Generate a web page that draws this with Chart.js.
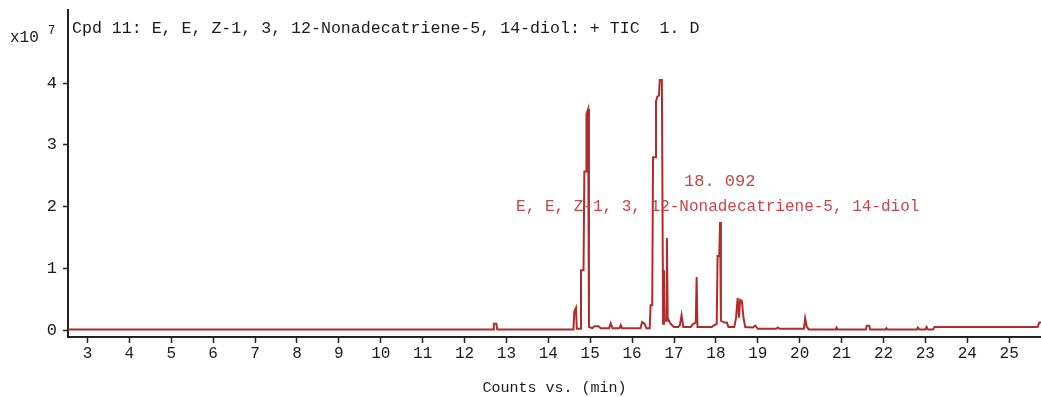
<!DOCTYPE html>
<html>
<head>
<meta charset="utf-8">
<script src="https://cdn.jsdelivr.net/npm/chart.js@4/dist/chart.umd.min.js"></script>
<style>
html,body{margin:0;padding:0;background:#fff;}
#c{display:block;}
</style>
</head>
<body>
<canvas id="c" width="1041" height="397" style="width:1041px;height:397px"></canvas>
<script>
// Retention time (min) and TIC counts (x10^7)
const times = [2.54,12.68,12.70,12.76,12.78,14.60,14.62,14.66,14.68,14.76,14.78,14.84,14.86,14.90,14.91,14.95,14.97,15.05,15.10,15.20,15.25,15.45,15.49,15.53,15.70,15.73,15.76,16.20,16.24,16.30,16.34,16.42,16.44,16.48,16.50,16.55,16.57,16.60,16.64,16.66,16.71,16.74,16.76,16.78,16.81,16.83,16.85,16.88,16.92,17.00,17.10,17.14,17.18,17.22,17.40,17.46,17.52,17.54,17.56,17.90,17.96,18.02,18.04,18.08,18.10,18.12,18.20,18.26,18.30,18.44,18.48,18.52,18.55,18.58,18.62,18.66,18.70,18.88,18.94,19.00,19.44,19.48,19.52,20.10,20.13,20.17,20.22,20.86,20.88,20.90,21.58,21.60,21.66,21.68,22.05,22.07,22.09,22.80,22.82,22.86,23.00,23.03,23.06,23.18,23.22,25.68,25.72,25.76];
const counts = [0.01,0.01,0.10,0.10,0.01,0.01,0.30,0.36,0.02,0.02,0.97,0.97,2.57,2.57,3.50,3.58,0.05,0.03,0.06,0.06,0.03,0.03,0.11,0.03,0.03,0.08,0.03,0.03,0.13,0.10,0.03,0.03,0.40,0.40,2.80,2.80,3.70,3.78,3.80,4.05,4.05,0.10,0.97,0.15,0.15,1.49,0.20,0.15,0.10,0.05,0.05,0.08,0.24,0.05,0.05,0.10,0.12,0.86,0.05,0.05,0.08,0.10,1.20,1.20,1.75,0.15,0.12,0.12,0.05,0.05,0.20,0.52,0.20,0.49,0.47,0.19,0.05,0.04,0.07,0.02,0.02,0.04,0.02,0.02,0.19,0.05,0.01,0.01,0.04,0.01,0.01,0.07,0.07,0.01,0.01,0.03,0.01,0.01,0.04,0.01,0.01,0.05,0.01,0.01,0.05,0.05,0.12,0.12];
const xTicks = [3,4,5,6,7,8,9,10,11,12,13,14,15,16,17,18,19,20,21,22,23,24,25];
const yTicks = [0,1,2,3,4];
const titleText = "Cpd 11: E, E, Z-1, 3, 12-Nonadecatriene-5, 14-diol: + TIC  1. D";
const peakTime = 18.092;
const peakLabel = "18. 092";
const peakName = "E, E, Z-1, 3, 12-Nonadecatriene-5, 14-diol";
const xTitle = "Counts vs. (min)";

const points = times.map((t,i)=>({x:t,y:counts[i]}));
const FONT = '"Liberation Mono", "DejaVu Sans Mono", monospace';

const textPlugin = {
  id:'texts',
  afterDraw(chart){
    const ctx = chart.ctx;
    const xs = chart.scales.x;
    ctx.save();
    ctx.fillStyle = '#1a1a1a';
    ctx.textBaseline = 'middle';
    ctx.textAlign = 'left';
    ctx.font = '16.6px ' + FONT;
    ctx.fillText(titleText, 72, 29);
    ctx.font = '16px ' + FONT;
    ctx.fillText('x10', 10, 38);
    ctx.font = '12px ' + FONT;
    ctx.fillText('7', 48, 31);
    // peak annotation
    const px = xs.getPixelForValue(peakTime);
    ctx.fillStyle = '#c84646';
    ctx.textAlign = 'center';
    ctx.font = '17px ' + FONT;
    ctx.fillText(peakLabel, px, 181);
    ctx.font = '16px ' + FONT;
    ctx.fillText(peakName, px - 2, 207);
    ctx.restore();
  }
};

new Chart(document.getElementById('c'), {
  type:'line',
  data:{datasets:[{
    data:points,
    borderColor:'#b02c2c',
    borderWidth:2,
    pointRadius:0,
    tension:0,
    fill:false
  }]},
  options:{
    responsive:false,
    devicePixelRatio:1,
    animation:false,
    parsing:false,
    layout:{padding:{top:10,right:0,left:0,bottom:0}},
    plugins:{legend:{display:false},tooltip:{enabled:false}},
    scales:{
      x:{
        type:'linear',
        min:2.535, max:25.76,
        afterBuildTicks(s){ s.ticks = xTicks.map(v=>({value:v})); },
        afterFit(s){ s.height = 60; s.paddingLeft = 0; s.paddingRight = 0; },
        grid:{drawOnChartArea:false, drawTicks:true, tickLength:6, color:'#222', tickWidth:1.5},
        border:{color:'#222', width:2},
        ticks:{color:'#1a1a1a', font:{family:FONT,size:16}, padding:1, maxRotation:0, autoSkip:false},
        title:{display:true, text:xTitle, color:'#1a1a1a', font:{family:FONT,size:15}, padding:{top:8,bottom:0}}
      },
      y:{
        type:'linear',
        min:-0.113, max:5.186,
        afterBuildTicks(s){ s.ticks = yTicks.map(v=>({value:v})); },
        afterFit(s){ s.width = 68; s.paddingTop = 0; s.paddingBottom = 0; },
        grid:{drawOnChartArea:false, drawTicks:true, tickLength:5, color:'#222', tickWidth:1.5},
        border:{color:'#222', width:2},
        ticks:{color:'#1a1a1a', font:{family:FONT,size:17}, padding:6}
      }
    }
  },
  plugins:[textPlugin]
});
</script>
</body>
</html>
